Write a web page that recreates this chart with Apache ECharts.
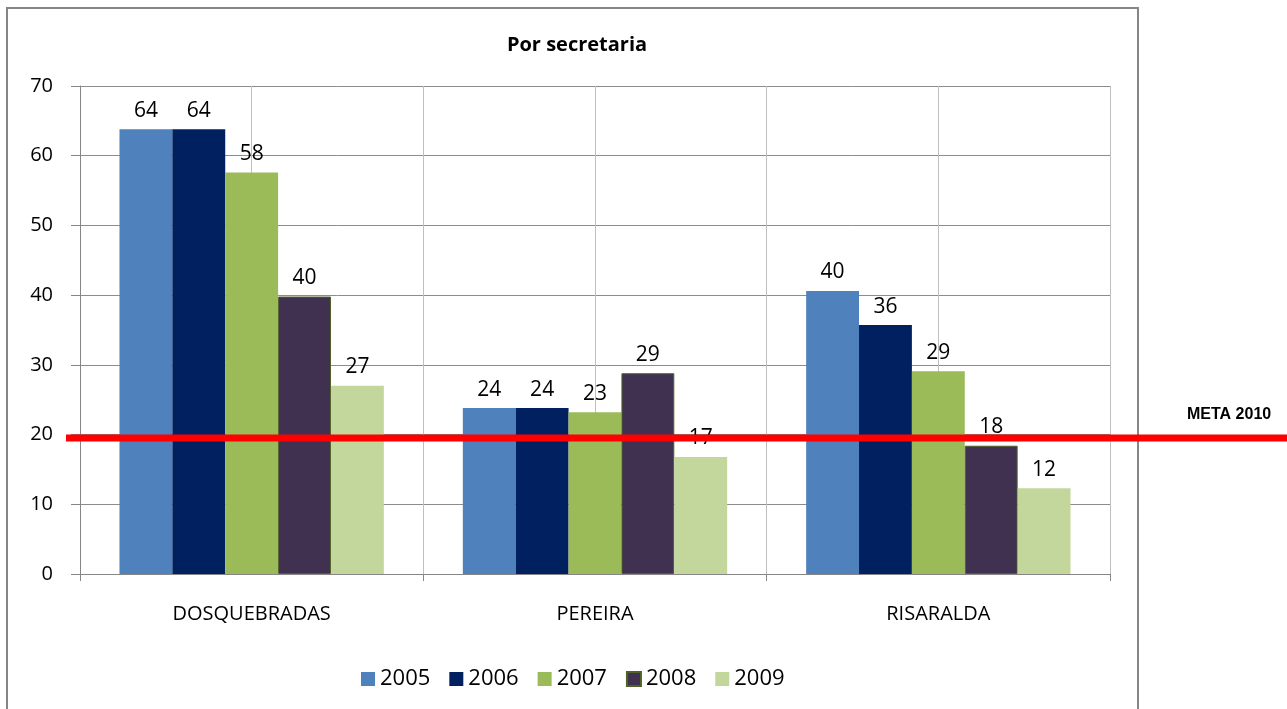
<!DOCTYPE html>
<html>
<head>
<meta charset="utf-8">
<script src="https://cdn.jsdelivr.net/npm/echarts@6/dist/echarts.min.js"></script>
<style>
  html, body { margin: 0; padding: 0; background: #fff; }
  #main { width: 1287px; height: 709px; }
</style>
</head>
<body>
<div id="main"></div>
<script>
// datos
var categorias = ['DOSQUEBRADAS', 'PEREIRA', 'RISARALDA'];
var anios = ['2005', '2006', '2007', '2008', '2009'];
var v2005 = [63.8, 23.8, 40.6];
var v2006 = [63.8, 23.8, 35.7];
var v2007 = [57.6, 23.2, 29.1];
var v2008 = [39.8, 28.8, 18.4];
var v2009 = [27.0, 16.8, 12.3];
var etiquetas = [
    [64, 24, 40],
    [64, 24, 36],
    [58, 23, 29],
    [40, 29, 18],
    [27, 17, 12]
];
var meta2010 = 19.5;
var yTicks = [0, 10, 20, 30, 40, 50, 60, 70];

var colors = ['#4F81BD', '#002060', '#9BBB59', '#403151', '#C3D69B'];
var fuente = '"Open Sans", sans-serif';

var myChart = echarts.init(document.getElementById('main'));

var valores = [v2005, v2006, v2007, v2008, v2009];
var series = [];
for (var i = 0; i < anios.length; i++) {
    (function (i) {
        series.push({
            name: anios[i],
            type: 'bar',
            xAxisIndex: 0,
            yAxisIndex: 0,
            barGap: '0%',
            barCategoryGap: '23%',
            data: valores[i],
            itemStyle: {
                color: colors[i],
                borderColor: i == 3 ? '#4F6228' : colors[i],
                borderWidth: i == 3 ? 1 : 0
            },
            label: {
                show: true,
                position: 'top',
                distance: 8,
                color: '#000',
                fontSize: 21,
                fontFamily: fuente,
                formatter: function (p) { return etiquetas[i][p.dataIndex]; }
            }
        });
    })(i);
}
// linea roja meta 2010
series.push({
    name: 'META 2010',
    type: 'line',
    xAxisIndex: 2,
    yAxisIndex: 1,
    data: [meta2010, meta2010],
    symbol: 'none',
    lineStyle: { color: '#FF0000', width: 7 },
    z: 10,
    silent: true
});

var option = {
    color: colors,
    backgroundColor: '#fff',
    animation: false,
    title: {
        text: 'Por secretaria',
        left: 572,
        textAlign: 'center',
        top: 30,
        textStyle: { color: '#000', fontSize: 20, fontWeight: 'bold', fontFamily: fuente }
    },
    graphic: [{
        type: 'rect',
        shape: { x: 7, y: 8, width: 1131, height: 720 },
        style: { fill: 'none', stroke: '#868686', lineWidth: 2 },
        z: -10
    }, {
        type: 'text',
        left: 1187,
        top: 407,
        style: { text: 'META 2010', fill: '#000', font: 'bold 16px "Liberation Sans", Arial, sans-serif' }
    }],
    legend: {
        data: anios,
        bottom: 14,
        left: 356,
        itemWidth: 14,
        itemHeight: 14,
        itemGap: 19,
        icon: 'rect',
        textStyle: { color: '#000', fontSize: 22, fontFamily: fuente }
    },
    grid: [
        { left: 80, right: 177, top: 86, bottom: 135 },
        { left: 66, right: 0, top: 86, bottom: 135 }
    ],
    xAxis: [{
        type: 'category',
        gridIndex: 0,
        data: categorias,
        axisLine: { lineStyle: { color: '#868686', width: 1 } },
        axisTick: { show: true, length: 7, lineStyle: { color: '#868686' } },
        axisLabel: { color: '#000', fontSize: 20, fontFamily: fuente, margin: 30 },
        splitLine: { show: false }
    }, {
        type: 'category',
        gridIndex: 0,
        data: ['a', 'b', 'c', 'd', 'e', 'f'],
        position: 'bottom',
        axisLine: { show: false },
        axisTick: { show: false },
        axisLabel: { show: false },
        splitLine: { show: true, lineStyle: { color: '#BFBFBF', width: 1 } }
    }, {
        type: 'category',
        gridIndex: 1,
        data: ['x', 'y'],
        boundaryGap: false,
        show: false
    }],
    yAxis: [{
        type: 'value',
        gridIndex: 0,
        min: 0,
        max: 70,
        interval: 10,
        axisLine: { show: true, lineStyle: { color: '#868686' } },
        axisTick: { show: true, length: 9, lineStyle: { color: '#868686' } },
        axisLabel: {
            color: '#000', fontSize: 20, fontFamily: fuente, margin: 27,
            formatter: function (v) { return yTicks.indexOf(v) >= 0 ? v : ''; }
        },
        splitLine: { show: true, lineStyle: { color: '#8C8C8C', width: 1 } }
    }, {
        type: 'value',
        gridIndex: 1,
        min: 0,
        max: 70,
        show: false,
        splitLine: { show: false }
    }],
    series: series
};
myChart.setOption(option);
</script>
</body>
</html>
